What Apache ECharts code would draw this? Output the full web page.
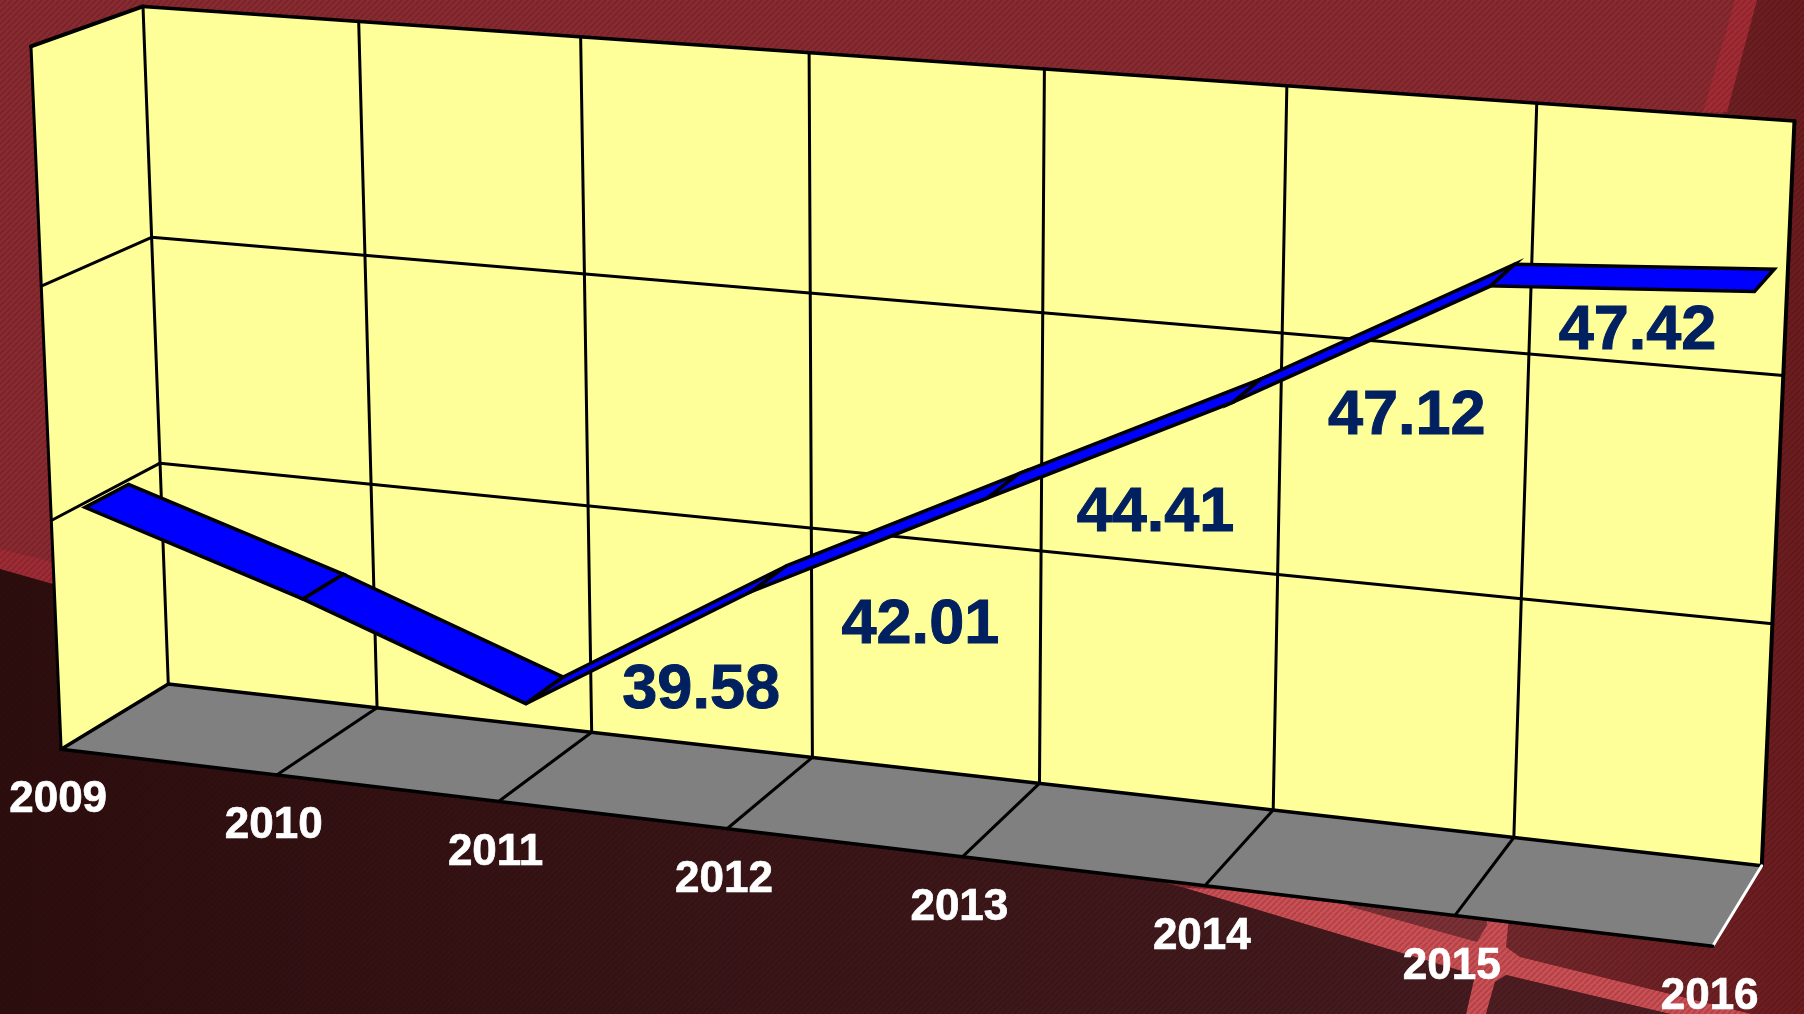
<!DOCTYPE html>
<html>
<head>
<meta charset="utf-8">
<style>html,body{margin:0;padding:0;background:#832a30;overflow:hidden}#c{width:1804px;height:1014px}</style>
<script src="https://cdn.jsdelivr.net/npm/echarts@6/dist/echarts.min.js"></script>
</head>
<body>
<div id="c"></div>
<script>
// ---- data ----
const years = ['2009','2010','2011','2012','2013','2014','2015','2016'];
const values = [39.9, 38.4, 36.66, 39.58, 42.01, 44.41, 47.12, 47.42];
const labelledFrom = 3;
const yTicks = [35, 40, 45, 50];

// ---- layout ----
const labelOffsets = [[-68,112],[-83,140],[-92,123],[-96,142],[-127,51]];
const ribbonDepth = [0.30, 0.70];
const yearLabelDrop = 51;
const yearLabelShift = -3;
const anchors = [
 [0,0,0,167.4,682.7],[1,0,0,1762.7,867],[0,1,0,142.5,6.5],[1,1,0,1794,117],
 [0,0,1,60.3,750.3],[1,0,1,1710,947.7],[0,1,1,29,48],
 [1/7,1,0,359.4,22.7],[2/7,1,0,581.7,37.3],[3/7,1,0,811,53],[4/7,1,0,1043.5,71],[5/7,1,0,1287.4,86],[6/7,1,0,1537.7,101.7],
 [1/7,0,0,377.2,708],[2/7,0,0,591.5,733.7],[3/7,0,0,811,757],[4/7,0,0,1040,784.6],[5/7,0,0,1273.6,811],[6/7,0,0,1512.8,838],
 [0,1/3,0,159.8,461.7],[0,2/3,0,152.7,235.3],[1,1/3,0,1771,624.7],[1,2/3,0,1782,375],
 [1/7,0,1,279,773.7],[2/7,0,1,500,801],[3/7,0,1,725,826],[4/7,0,1,963,857],[5/7,0,1,1206,885],[6/7,0,1,1458,915.7],
 [0,1/3,1,51.3,520.3],[0,2/3,1,40.2,287.7]
];

// Least-squares fit of the 3D-to-screen projective camera
function fitCamera(pts){
  const n = 11, A = [];
  for (let i=0;i<n;i++) A.push(new Array(n+1).fill(0));
  const add = (r,b)=>{ for(let i=0;i<n;i++){ for(let j=0;j<n;j++) A[i][j]+=r[i]*r[j]; A[i][n]+=r[i]*b; } };
  pts.forEach(([x,y,z,sx,sy])=>{
    const u=sx/1000, v=sy/1000;
    add([x,y,z,1,0,0,0,0,-u*x,-u*y,-u*z],u);
    add([0,0,0,0,x,y,z,1,-v*x,-v*y,-v*z],v);
  });
  for(let c=0;c<n;c++){
    let p=c; for(let r=c+1;r<n;r++) if(Math.abs(A[r][c])>Math.abs(A[p][c])) p=r;
    [A[c],A[p]]=[A[p],A[c]];
    for(let r=0;r<n;r++){ if(r===c) continue; const f=A[r][c]/A[c][c]; for(let k=c;k<=n;k++) A[r][k]-=f*A[c][k]; }
  }
  return A.map((row,i)=>row[n]/row[i]);
}
const cam = fitCamera(anchors);
function project(x,y,z){
  const w = cam[8]*x+cam[9]*y+cam[10]*z+1;
  return [1000*(cam[0]*x+cam[1]*y+cam[2]*z+cam[3])/w, 1000*(cam[4]*x+cam[5]*y+cam[6]*z+cam[7])/w];
}
// Reads the library's axis scales, then maps the flat grid into the 3D box
function norm(api,params,cat,val){
  const c = api.coord([cat,val]), g = params.coordSys;
  return [(c[0]-g.x)/g.width, 1-(c[1]-g.y)/g.height];
}
function line(a,b,w,color){
  return {type:'line',shape:{x1:a[0],y1:a[1],x2:b[0],y2:b[1]},style:{stroke:color||'#000',lineWidth:w,lineCap:'round'}};
}
function poly(points,fill){ return {type:'polygon',shape:{points},style:{fill}}; }

function renderFrame(params,api){
  const last = years.length-1, yMin=yTicks[0], yMax=yTicks[yTicks.length-1];
  const P = (cat,val,z)=>{ const n=norm(api,params,cat,val); return project(n[0],n[1],z); };
  const ch = [];
  ch.push(poly([P(0,yMin,1),P(0,yMax,1),P(0,yMax,0),P(0,yMin,0)],'#ffff99'));
  ch.push(poly([P(0,yMin,0),P(0,yMax,0),P(last,yMax,0),P(last,yMin,0)],'#ffff99'));
  ch.push(poly([P(0,yMin,0),P(last,yMin,0),P(last,yMin,1),P(0,yMin,1)],'#808080'));
  for(let i=1;i<last;i++){
    ch.push(line(P(i,yMin,0),P(i,yMax,0),3));
    ch.push(line(P(i,yMin,0),P(i,yMin,1),3));
  }
  yTicks.slice(1,-1).forEach(t=>{
    ch.push(line(P(0,t,1),P(0,t,0),3));
    ch.push(line(P(0,t,0),P(last,t,0),3));
  });
  ch.push(line(P(0,yMin,0),P(0,yMax,0),3));
  ch.push(line(P(0,yMin,1),P(0,yMax,1),3));
  ch.push(line(P(0,yMax,1),P(0,yMax,0),4));
  ch.push(line(P(0,yMax,0),P(last,yMax,0),3.5));
  ch.push(line(P(last,yMax,0),P(last,yMin,0),4));
  ch.push(line(P(0,yMin,0),P(last,yMin,0),3.5));
  ch.push(line(P(0,yMin,1),P(0,yMin,0),3.5));
  ch.push(line(P(last,yMin,0),P(last,yMin,1),3,'#fff'));
  ch.push(line(P(0,yMin,1),P(last,yMin,1),3.5));
  return {type:'group',children:ch};
}
function renderRibbon(params,api){
  const i = api.value(0), v0 = api.value(1), v1 = api.value(2);
  const a = norm(api,params,i,v0), b = norm(api,params,i+1,v1);
  const pts = [project(a[0],a[1],ribbonDepth[0]),project(b[0],b[1],ribbonDepth[0]),
               project(b[0],b[1],ribbonDepth[1]),project(a[0],a[1],ribbonDepth[1])];
  return {type:'polygon',shape:{points:pts},style:{fill:'#0000ff',stroke:'#000',lineWidth:3.5,lineJoin:'miter'}};
}
function renderYear(params,api){
  const n = norm(api,params,api.value(0),yTicks[0]);
  const p = project(n[0],n[1],1);
  return {type:'text',style:{text:years[api.value(0)],x:p[0]+yearLabelShift,y:p[1]+yearLabelDrop,fill:'#fff',
    stroke:'#fff',lineWidth:0.7,
    fontSize:44,fontWeight:'bold',fontFamily:'"Liberation Sans"',align:'center',verticalAlign:'middle',
    textAlign:'center',textVerticalAlign:'middle'}};
}
function renderValue(params,api){
  const i = api.value(0), v = api.value(1);
  const n = norm(api,params,i,v);
  const p = project(n[0],n[1],(ribbonDepth[0]+ribbonDepth[1])/2);
  const off = labelOffsets[i-labelledFrom];
  return {type:'text',style:{text:v.toFixed(2),x:p[0]+off[0],y:p[1]+off[1],fill:'#002060',
    stroke:'#002060',lineWidth:1,
    fontSize:63,fontWeight:'bold',fontFamily:'"Liberation Sans"',align:'center',verticalAlign:'middle',
    textAlign:'center',textVerticalAlign:'middle'}};
}

// ---- decorative slide background ----
function stripeTile(){
  const s=6, c=document.createElement('canvas'); c.width=c.height=s;
  const g=c.getContext('2d');
  g.strokeStyle='rgba(40,0,0,0.16)'; g.lineWidth=2.2;
  [-s,0,s].forEach(o=>{ g.beginPath(); g.moveTo(o,s); g.lineTo(o+s,0); g.stroke(); });
  return c;
}
const hgrad=(x0,x1,c0,c1)=>({type:'linear',x:x0,y:0,x2:x1,y2:0,global:true,colorStops:[{offset:0,color:c0},{offset:1,color:c1}]});
const bgPolys = [
  {pts:[[0,0],[1804,0],[1804,1014],[0,1014]],fill:'#8a2b32'},
  {pts:[[1757,0],[1804,0],[1804,1014],[1500,1014],[1500,880]],fill:hgrad(1500,1804,'#742a2e','#6c1c1f')},
  {pts:[[1735,0],[1757,0],[1727,112],[1703,112]],fill:'#a42c36'},
  {pts:[[0,549],[60,564],[60,586],[0,569]],fill:'#a02c36'},
  {pts:[[1185,888],[1351,895],[1510,905],[1506,947],[1520,957],[1751,1014],[1670,1014],[1506,975],[1495,982],[1486,1014],[1466,1014],[1475,975]],fill:'#cc5055'},
  {pts:[[1340,900],[1351,907],[1477,942],[1487,925],[1487,895]],fill:'#7c3237'},
  {pts:[[0,569],[60,586],[1185,888],[1475,975],[1466,1014],[0,1014]],fill:hgrad(0,1460,'#2d0e0f','#451c20')},
  {pts:[[1506,975],[1670,1014],[1486,1014],[1495,982]],fill:'#4e1e23'}
];
const bgGraphics = bgPolys.map(b=>({type:'polygon',shape:{points:b.pts},style:{fill:b.fill},silent:true,z:0}));
bgGraphics.push({type:'rect',shape:{x:0,y:0,width:1804,height:1014},style:{fill:{image:stripeTile(),repeat:'repeat'}},silent:true,z:0});

const chart = echarts.init(document.getElementById('c'),null,{renderer:'canvas'});
chart.setOption({
  animation:false,
  backgroundColor:'transparent',
  graphic:{elements:bgGraphics},
  grid:{left:100,right:100,top:100,bottom:100},
  xAxis:{type:'category',data:years,boundaryGap:false,show:false},
  yAxis:{type:'value',min:yTicks[0],max:yTicks[yTicks.length-1],interval:5,show:false},
  tooltip:{show:false},
  series:[
    {type:'custom',name:'frame',clip:false,z:2,silent:true,renderItem:renderFrame,data:[[0,yTicks[0]]]},
    {type:'custom',name:'ribbon',clip:false,z:3,silent:true,renderItem:renderRibbon,
      encode:{x:0,y:1},data:values.slice(0,-1).map((v,i)=>[i,v,values[i+1]])},
    {type:'custom',name:'years',clip:false,z:4,silent:true,renderItem:renderYear,
      encode:{x:0},data:years.map((y,i)=>[i])},
    {type:'custom',name:'values',clip:false,z:5,silent:true,renderItem:renderValue,
      encode:{x:0,y:1},data:values.map((v,i)=>[i,v]).slice(labelledFrom)}
  ]
});
</script>
</body>
</html>
